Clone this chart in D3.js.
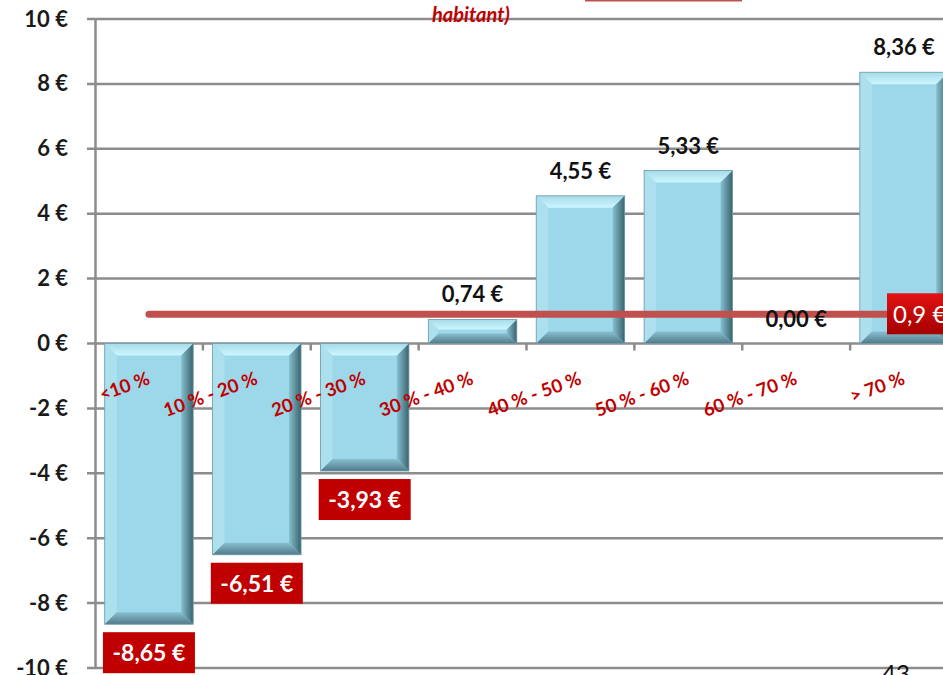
<!DOCTYPE html>
<html>
<head>
<meta charset="utf-8">
<script src="https://cdn.jsdelivr.net/npm/d3@7"></script>
<style>
  body { margin: 0; background: #fff; }
  svg { display: block; font-family: Lato, "Open Sans", sans-serif; }
</style>
</head>
<body>
<script>
// categories and values
var categories = ["<10 %", "10 % - 20 %", "20 % - 30 %", "30 % - 40 %", "40 % - 50 %", "50 % - 60 %", "60 % - 70 %", "> 70 %"];
var values = [-8.65, -6.51, -3.93, 0.74, 4.55, 5.33, 0.00, 8.36];
var yTicks = [-10, -8, -6, -4, -2, 0, 2, 4, 6, 8, 10];
var average = 0.9;

var width = 943,
    height = 675;

var svg = d3.select("body").append("svg")
    .attr("width", width)
    .attr("height", height);

var defs = svg.append("defs");

//gradients for the bevelled bars
var gRight = defs.append("linearGradient").attr("id", "gRight").attr("x1", 0).attr("x2", 1).attr("y1", 0).attr("y2", 0);
gRight.append("stop").attr("offset", "0%").attr("stop-color", "#86bfcf");
gRight.append("stop").attr("offset", "100%").attr("stop-color", "#3a636e");
var gBottom = defs.append("linearGradient").attr("id", "gBottom").attr("x1", 0).attr("x2", 0).attr("y1", 0).attr("y2", 1);
gBottom.append("stop").attr("offset", "0%").attr("stop-color", "#88c0d0");
gBottom.append("stop").attr("offset", "100%").attr("stop-color", "#52798a");
var gTop = defs.append("linearGradient").attr("id", "gTop").attr("x1", 0).attr("x2", 0).attr("y1", 0).attr("y2", 1);
gTop.append("stop").attr("offset", "0%").attr("stop-color", "#a6dbe9");
gTop.append("stop").attr("offset", "100%").attr("stop-color", "#cdf6ff");
var gRed = defs.append("linearGradient").attr("id", "gRed").attr("x1", 0).attr("x2", 0).attr("y1", 0).attr("y2", 1);
gRed.append("stop").attr("offset", "0%").attr("stop-color", "#e21212");
gRed.append("stop").attr("offset", "100%").attr("stop-color", "#a30000");

//scales
var x = d3.scaleBand()
    .domain(categories)
    .range([95, 958])
    .paddingInner(0.18)
    .paddingOuter(0.09);

var y = d3.scaleLinear()
    .domain([-10, 10])
    .range([668, 19]);

var gridColor = "#8c8c8c";

//horizontal gridlines
svg.append("g")
    .selectAll("line")
    .data(yTicks)
    .enter()
    .append("line")
    .attr("x1", 87)
    .attr("x2", width)
    .attr("y1", function (d) { return y(d); })
    .attr("y2", function (d) { return y(d); })
    .attr("stroke", gridColor)
    .attr("stroke-width", 2.5);

//vertical axis
var yAxis = svg.append("g")
    .attr("transform", "translate(95,0)")
    .call(d3.axisLeft(y).tickValues(yTicks).tickSize(0).tickPadding(27)
        .tickFormat(function (d) { return d + " €"; }));
yAxis.select(".domain").attr("stroke", gridColor).attr("stroke-width", 2.5);
yAxis.selectAll("text")
    .attr("font-size", 22)
    .attr("font-weight", "bold")
    .attr("fill", "#1a1a1a")
    .attr("font-family", "Lato, sans-serif");

//tick marks on the zero line between categories
var step = x.step();
svg.append("g")
    .selectAll("line")
    .data(categories)
    .enter()
    .append("line")
    .attr("x1", function (d) { return x(d) + x.bandwidth() + (step - x.bandwidth()) / 2; })
    .attr("x2", function (d) { return x(d) + x.bandwidth() + (step - x.bandwidth()) / 2; })
    .attr("y1", y(0))
    .attr("y2", y(0) + 7)
    .attr("stroke", gridColor)
    .attr("stroke-width", 2.5);

//bars with a bevel effect
var bars = svg.append("g")
    .selectAll("g")
    .data(values.map(function (v, i) { return { v: v, c: categories[i] }; }).filter(function (d) { return d.v !== 0; }))
    .enter()
    .append("g");

bars.each(function (d) {
    var g = d3.select(this);
    var x0 = x(d.c), x1 = x0 + x.bandwidth();
    var y0 = Math.min(y(0), y(d.v)), y1 = Math.max(y(0), y(d.v));
    var b = Math.min(12, (y1 - y0) / 2.4);
    g.append("rect")
        .attr("x", x0).attr("y", y0)
        .attr("width", x1 - x0).attr("height", y1 - y0)
        .attr("fill", "#9dd7ea");
    //top
    g.append("polygon")
        .attr("points", [[x0, y0], [x1, y0], [x1 - b, y0 + b], [x0 + b, y0 + b]].join(" "))
        .attr("fill", "url(#gTop)");
    //left
    g.append("polygon")
        .attr("points", [[x0, y0], [x0 + b, y0 + b], [x0 + b, y1 - b], [x0, y1]].join(" "))
        .attr("fill", "#ace0ef");
    //right
    g.append("polygon")
        .attr("points", [[x1, y0], [x1, y1], [x1 - b, y1 - b], [x1 - b, y0 + b]].join(" "))
        .attr("fill", "url(#gRight)");
    //bottom
    g.append("polygon")
        .attr("points", [[x0, y1], [x0 + b, y1 - b], [x1 - b, y1 - b], [x1, y1]].join(" "))
        .attr("fill", "url(#gBottom)");
    g.append("rect")
        .attr("x", x0).attr("y", y0)
        .attr("width", x1 - x0).attr("height", y1 - y0)
        .attr("fill", "none")
        .attr("stroke", "#6f9aa6")
        .attr("stroke-width", 0.8);
});

//average line
var xAvgStart = x(categories[0]) + x.bandwidth() / 2;
svg.append("line")
    .attr("x1", xAvgStart)
    .attr("x2", width)
    .attr("y1", y(average))
    .attr("y2", y(average))
    .attr("stroke", "#c0504d")
    .attr("stroke-width", 7)
    .attr("stroke-linecap", "round");

//category labels
svg.append("g")
    .selectAll("text")
    .data(categories)
    .enter()
    .append("text")
    .attr("transform", function (d) {
        return "translate(" + (x(d) + x.bandwidth() / 2 + 2) + "," + (y(0) + 40) + ") rotate(-20)";
    })
    .attr("text-anchor", "end")
    .attr("font-size", 18.5)
    .attr("font-weight", "bold")
    .attr("fill", "#c00000")
    .text(function (d) { return d; });

var fmt = function (v) { return d3.format(".2f")(v).replace(".", ",").replace("−", "-") + " €"; };

//positive value labels
svg.append("g")
    .selectAll("text")
    .data(values.map(function (v, i) { return { v: v, c: categories[i] }; }).filter(function (d) { return d.v >= 0; }))
    .enter()
    .append("text")
    .attr("x", function (d) { return x(d.c) + x.bandwidth() / 2; })
    .attr("y", function (d) { return y(d.v) - 17; })
    .attr("text-anchor", "middle")
    .attr("font-size", 22)
    .attr("font-weight", "bold")
    .attr("fill", "#111")
    .text(function (d) { return fmt(d.v); });

//negative value labels in red boxes
var neg = svg.append("g")
    .selectAll("g")
    .data(values.map(function (v, i) { return { v: v, c: categories[i] }; }).filter(function (d) { return d.v < 0; }))
    .enter()
    .append("g")
    .attr("transform", function (d) {
        return "translate(" + (x(d.c) + x.bandwidth() / 2) + "," + (y(d.v) + 8) + ")";
    });
neg.append("rect")
    .attr("x", -46).attr("y", 0)
    .attr("width", 92).attr("height", 41)
    .attr("fill", "#c00000");
neg.append("text")
    .attr("y", 29)
    .attr("text-anchor", "middle")
    .attr("font-size", 23)
    .attr("font-weight", "bold")
    .attr("fill", "#fff")
    .text(function (d) { return fmt(d.v); });

//average label
svg.append("rect")
    .attr("x", 887).attr("y", y(average) - 21)
    .attr("width", 92).attr("height", 41)
    .attr("fill", "url(#gRed)");
svg.append("text")
    .attr("x", 893).attr("y", y(average) + 9)
    .attr("font-size", 24)
    .attr("fill", "#fff")
    .text("0,9 €");

//leftovers of the slide title and page number
svg.append("line")
    .attr("x1", 585).attr("x2", 742)
    .attr("y1", 0.5).attr("y2", 0.5)
    .attr("stroke", "#c0504d")
    .attr("stroke-width", 2);
svg.append("text")
    .attr("x", 432).attr("y", 22)
    .attr("font-size", 20)
    .attr("font-weight", "bold")
    .attr("font-style", "italic")
    .attr("fill", "#c00000")
    .text("habitant)");
svg.append("text")
    .attr("x", 882).attr("y", 682)
    .attr("font-size", 24)
    .attr("fill", "#111")
    .text("43");
</script>
</body>
</html>
